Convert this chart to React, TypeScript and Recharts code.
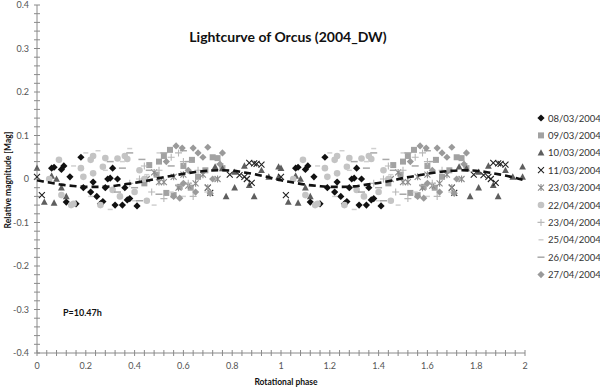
import { ScatterChart, Scatter, XAxis, YAxis } from 'recharts';

type Pt = [number, number]; // [rotational phase, relative magnitude]

// observations, one rotation (phase 0..1); plotted twice over 0..2
const obs0803: Pt[] = [
  [0.06, 0.025], [0.07, 0.027], [0.1, 0.022], [0.11, 0.03], [0.18, 0.05], [0.135, 0.005],
  [0.12, -0.053], [0.16, -0.057], [0.19, -0.02], [0.22, -0.03], [0.23, -0.007], [0.245, -0.04],
  [0.26, -0.057], [0.27, -0.052], [0.29, 0.0], [0.3, 0.002], [0.31, 0.025], [0.32, -0.06],
  [0.35, -0.06], [0.33, 0.0], [0.37, -0.048], [0.41, -0.062], [0.38, -0.045], [0.36, -0.02], [0.28, -0.02],
];
const obs0903: Pt[] = [
  [0.545, 0.067], [0.52, 0.053], [0.46, 0.032], [0.635, 0.044], [0.72, 0.05], [0.74, 0.048],
  [0.585, -0.018], [0.53, -0.032], [0.49, 0.01], [0.56, -0.037], [0.6, 0.03], [0.66, 0.005],
  [0.69, 0.02], [0.44, -0.01], [0.76, 0.025], [0.5, 0.04], [0.63, -0.02],
];
const obs1003: Pt[] = [
  [0.73, 0.028], [0.76, 0.024], [0.775, -0.04], [0.81, -0.02], [0.81, 0.016], [0.85, 0.03],
  [0.87, -0.014], [0.89, -0.04], [0.92, 0.02], [0.95, 0.005], [0.99, 0.028], [0.99, 0.005],
  [0.03, -0.053], [0.07, -0.055], [0.12, -0.04], [0.06, 0.007], [0.0, 0.025], [0.1, -0.02], [0.08, 0.0],
];
const obs1103: Pt[] = [
  [0.7, -0.02], [0.71, -0.032], [0.83, 0.009], [0.85, 0.005], [0.86, 0.0], [0.87, 0.037],
  [0.89, 0.036], [0.9, 0.035], [0.92, 0.033], [0.88, -0.009], [0.02, -0.037], [0.0, 0.005], [0.79, 0.01],
];
const obs2303: Pt[] = [
  [0.45, 0.0], [0.5, -0.007], [0.52, -0.007], [0.56, 0.005], [0.6, 0.01], [0.65, -0.01],
  [0.7, -0.02], [0.74, 0.0], [0.68, 0.01], [0.62, -0.015], [0.48, 0.015], [0.58, -0.02],
];
const obs2204: Pt[] = [
  [0.09, 0.044], [0.23, 0.053], [0.18, 0.025], [0.28, 0.048], [0.33, 0.047], [0.37, 0.046],
  [0.19, 0.005], [0.23, 0.013], [0.31, -0.025], [0.34, -0.04], [0.14, -0.06], [0.1, -0.037],
  [0.05, 0.0], [0.22, 0.044], [0.27, 0.028], [0.15, -0.057], [0.42, 0.02], [0.4, -0.03],
  [0.36, 0.053], [0.45, -0.05], [0.26, -0.06], [0.44, 0.0],
];
const obs2304: Pt[] = [
  [0.38, -0.01], [0.42, 0.0], [0.47, -0.03], [0.5, 0.02], [0.55, 0.05], [0.6, 0.04], [0.62, -0.01],
  [0.66, 0.02], [0.7, -0.03], [0.75, 0.035], [0.52, -0.045], [0.58, 0.06], [0.44, 0.03], [0.64, -0.04],
];
const obs2504: Pt[] = [
  [0.15, 0.03], [0.2, 0.06], [0.25, 0.065], [0.3, -0.07], [0.35, 0.04], [0.4, -0.05], [0.45, 0.01],
  [0.5, 0.06], [0.55, -0.03], [0.28, 0.02], [0.38, 0.07], [0.6, -0.04], [0.22, -0.04], [0.48, -0.06],
];
const obs2604: Pt[] = [
  [0.3, 0.04], [0.35, 0.025], [0.38, 0.06], [0.4, -0.02], [0.43, 0.045], [0.46, 0.02], [0.5, -0.035],
  [0.52, 0.06], [0.55, 0.03], [0.58, -0.015], [0.62, 0.04], [0.42, -0.05], [0.33, -0.03], [0.6, 0.065],
];
const obs2704: Pt[] = [
  [0.595, 0.071], [0.64, 0.071], [0.7, 0.073], [0.66, 0.06], [0.68, 0.05], [0.585, -0.044],
  [0.56, -0.04], [0.65, -0.03], [0.71, -0.033], [0.75, 0.034], [0.62, 0.02], [0.57, 0.076],
  [0.72, 0.0], [0.6, -0.01], [0.76, 0.06], [0.53, 0.04],
];

// fitted lightcurve over one rotation
const fitPhase = [0, 0.05, 0.1, 0.15, 0.2, 0.25, 0.3, 0.35, 0.4, 0.45, 0.5, 0.55, 0.6, 0.65, 0.7, 0.75, 0.8, 0.85, 0.9, 0.95, 1.0];
const fitMag = [-0.003, -0.008, -0.013, -0.016, -0.018, -0.018, -0.017, -0.013, -0.009, -0.004, 0.002, 0.007, 0.012, 0.016, 0.019, 0.02, 0.019, 0.015, 0.01, 0.004, -0.003];

const xMajor = [0, 0.2, 0.4, 0.6, 0.8, 1, 1.2, 1.4, 1.6, 1.8, 2];
const yMajor = [-0.4, -0.3, -0.2, -0.1, 0, 0.1, 0.2, 0.3, 0.4];

type Kind = 'diamond' | 'square' | 'triangle' | 'x' | 'asterisk' | 'circle' | 'plus' | 'shortdash' | 'dash';

const series: { name: string; pts: Pt[]; kind: Kind; color: string }[] = [
  { name: '08/03/2004', pts: obs0803, kind: 'diamond', color: '#111111' },
  { name: '09/03/2004', pts: obs0903, kind: 'square', color: '#a2a2a2' },
  { name: '10/03/2004', pts: obs1003, kind: 'triangle', color: '#5e5e5e' },
  { name: '11/03/2004', pts: obs1103, kind: 'x', color: '#222222' },
  { name: '23/03/2004', pts: obs2303, kind: 'asterisk', color: '#8c8c8c' },
  { name: '22/04/2004', pts: obs2204, kind: 'circle', color: '#c4c4c4' },
  { name: '23/04/2004', pts: obs2304, kind: 'plus', color: '#b8b8b8' },
  { name: '25/04/2004', pts: obs2504, kind: 'shortdash', color: '#d0d0d0' },
  { name: '26/04/2004', pts: obs2604, kind: 'dash', color: '#a8a8a8' },
  { name: '27/04/2004', pts: obs2704, kind: 'diamond', color: '#9a9a9a' },
];

const AXIS = '#8a8a8a';
const FONT = 'Lato, "Open Sans", sans-serif';

const twoCycles = (pts: Pt[]) => [
  ...pts.map(([p, m]) => ({ x: p, y: m })),
  ...pts.map(([p, m]) => ({ x: p + 1, y: m })),
];
const fitData = [
  ...fitPhase.map((p, i) => ({ x: p, y: fitMag[i] })),
  ...fitPhase.slice(1).map((p, i) => ({ x: p + 1, y: fitMag[i + 1] })),
];

// minor ticks every 0.04 (x) and 0.02 (y)
const xTicks = Array.from({ length: 51 }, (_, i) => +(i * 0.04).toFixed(2));
const yTicks = Array.from({ length: 41 }, (_, i) => +(-0.4 + i * 0.02).toFixed(2));
const isMajor = (v: number, list: number[]) => list.some(m => Math.abs(m - v) < 1e-6);
const fmt = (v: number) => String(Math.round(v * 10) / 10);

function Marker({ kind, color, cx, cy }: { kind: Kind; color: string; cx: number; cy: number }) {
  switch (kind) {
    case 'diamond':
      return <polygon points={`${cx},${cy - 3.6} ${cx + 3.6},${cy} ${cx},${cy + 3.6} ${cx - 3.6},${cy}`} fill={color} />;
    case 'square':
      return <rect x={cx - 3} y={cy - 3} width={6} height={6} fill={color} />;
    case 'triangle':
      return <polygon points={`${cx},${cy - 3.6} ${cx + 3.4},${cy + 2.8} ${cx - 3.4},${cy + 2.8}`} fill={color} />;
    case 'x':
      return <path d={`M${cx - 3},${cy - 3}L${cx + 3},${cy + 3}M${cx + 3},${cy - 3}L${cx - 3},${cy + 3}`} stroke={color} strokeWidth={1.1} />;
    case 'asterisk':
      return <path d={`M${cx - 3},${cy - 3}L${cx + 3},${cy + 3}M${cx + 3},${cy - 3}L${cx - 3},${cy + 3}M${cx},${cy - 3.5}L${cx},${cy + 3.5}`} stroke={color} strokeWidth={1.1} />;
    case 'circle':
      return <circle cx={cx} cy={cy} r={3.3} fill={color} />;
    case 'plus':
      return <path d={`M${cx - 3.5},${cy}L${cx + 3.5},${cy}M${cx},${cy - 3.5}L${cx},${cy + 3.5}`} stroke={color} strokeWidth={1.1} />;
    case 'shortdash':
      return <line x1={cx - 2.5} x2={cx + 2.5} y1={cy} y2={cy} stroke={color} strokeWidth={1.5} />;
    case 'dash':
      return <line x1={cx - 3.5} x2={cx + 3.5} y1={cy} y2={cy} stroke={color} strokeWidth={1.5} />;
  }
  return null;
}

const BottomTick = ({ x, y, payload }: any) => (
  <g>
    <line x1={x} x2={x} y1={y - 3} y2={y + 3} stroke={AXIS} />
    {isMajor(payload.value, xMajor) && (
      <text x={x} y={y + 16} textAnchor="middle" fontSize={9} fontFamily={FONT} fill="#555">{fmt(payload.value)}</text>
    )}
  </g>
);
const TopTick = ({ x, y }: any) => <line x1={x} x2={x} y1={y - 3} y2={y + 3} stroke={AXIS} />;
const LeftTick = ({ x, y, payload }: any) => (
  <g>
    <line x1={x - 3} x2={x + 3} y1={y} y2={y} stroke={AXIS} />
    {isMajor(payload.value, yMajor) && (
      <text x={x - 8} y={y + 3} textAnchor="end" fontSize={9} fontFamily={FONT} fill="#555">{fmt(payload.value)}</text>
    )}
  </g>
);
const RightTick = ({ x, y }: any) => <line x1={x - 3} x2={x + 3} y1={y} y2={y} stroke={AXIS} />;

export default function App() {
  return (
    <div style={{ position: 'absolute', left: 0, top: 0, width: 600, height: 388, background: '#fff' }}>
      <ScatterChart width={600} height={388} margin={{ top: 5, right: 75, bottom: 15, left: 7 }}>
        <XAxis xAxisId="b" type="number" dataKey="x" domain={[0, 2]} ticks={xTicks} interval={0}
          height={20} tickSize={0} tickMargin={0} tickLine={false} axisLine={{ stroke: AXIS }} tick={<BottomTick />} />
        <XAxis xAxisId="t" type="number" dataKey="x" orientation="top" domain={[0, 2]} ticks={xTicks} interval={0}
          height={0} tickSize={0} tickMargin={0} tickLine={false} axisLine={{ stroke: AXIS }} tick={<TopTick />} />
        <YAxis yAxisId="l" type="number" dataKey="y" domain={[-0.4, 0.4]} ticks={yTicks} interval={0}
          width={30} tickSize={0} tickMargin={0} tickLine={false} axisLine={{ stroke: AXIS }} tick={<LeftTick />} />
        <YAxis yAxisId="r" type="number" dataKey="y" orientation="right" domain={[-0.4, 0.4]} ticks={yTicks} interval={0}
          width={0} tickSize={0} tickMargin={0} tickLine={false} axisLine={{ stroke: AXIS }} tick={<RightTick />} />
        {/* keep the frame axes bound to something */}
        <Scatter xAxisId="t" yAxisId="r" data={[{ x: 0, y: 0 }]} shape={() => <g />} isAnimationActive={false} />
        {series.map(s => (
          <Scatter
            key={s.name}
            name={s.name}
            xAxisId="b"
            yAxisId="l"
            data={twoCycles(s.pts)}
            isAnimationActive={false}
            shape={(p: any) => <Marker kind={s.kind} color={s.color} cx={p.cx} cy={p.cy} />}
          />
        ))}
        <Scatter
          name="fit"
          xAxisId="b"
          yAxisId="l"
          data={fitData}
          line={{ stroke: '#111', strokeWidth: 2.6, strokeDasharray: '7 4' }}
          lineJointType="monotoneX"
          shape={() => <g />}
          isAnimationActive={false}
        />
      </ScatterChart>

      <svg width={600} height={388} style={{ position: 'absolute', left: 0, top: 0, pointerEvents: 'none' }}>
        <text x={288} y={42} textAnchor="middle" fontSize={14} fontWeight="bold" fontFamily={FONT} fill="#111">
          Lightcurve of Orcus (2004_DW)
        </text>
        <text x={63} y={316} fontSize={9} fontWeight="bold" fontFamily={FONT} fill="#111">P=10.47h</text>
        <text x={286} y={385} textAnchor="middle" fontSize={8.5} fontWeight="bold" fontFamily={FONT} fill="#111">
          Rotational phase
        </text>
        <text transform="translate(11,180) rotate(-90)" textAnchor="middle" fontSize={8.5} fontWeight="bold" fontFamily={FONT} fill="#111">
          Relative magnitude [Mag]
        </text>
        {series.map((s, i) => {
          const cy = 118 + i * 17.4;
          return (
            <g key={s.name}>
              <Marker kind={s.kind} color={s.color} cx={541} cy={cy} />
              <text x={548} y={cy + 3.5} fontSize={9.5} fontFamily={FONT} fill="#333">{s.name}</text>
            </g>
          );
        })}
      </svg>
    </div>
  );
}
